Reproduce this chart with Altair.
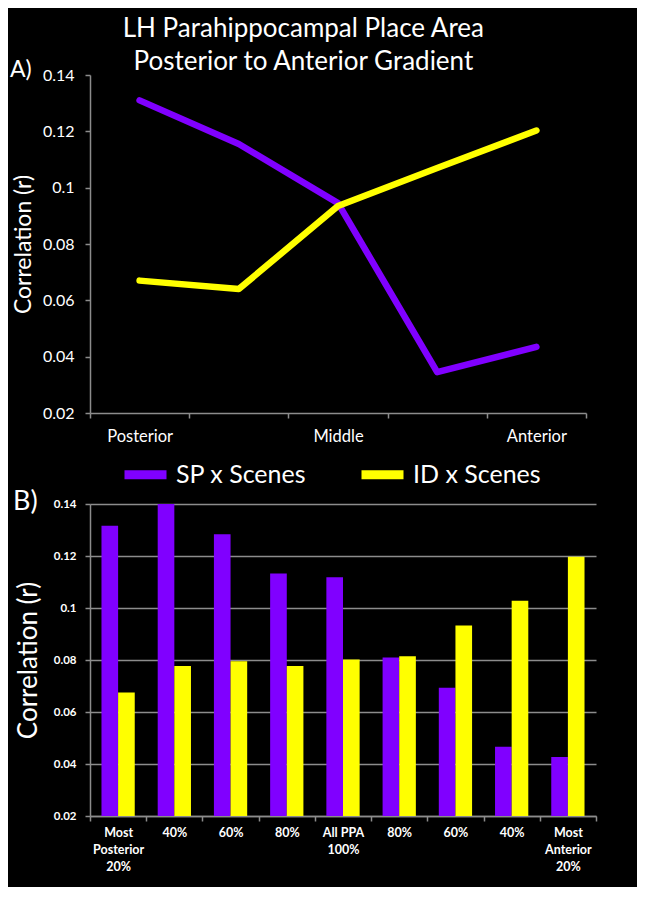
import altair as alt
import pandas as pd

FONT = "Lato"

title_lines = ["LH Parahippocampal Place Area", "Posterior to Anterior Gradient"]
series = ["SP x Scenes", "ID x Scenes"]
colors = ["#8000ff", "#ffff00"]

# Panel A: posterior-to-anterior gradient (5 positions)
grad_pos = ["Posterior", "Posterior-Middle", "Middle", "Middle-Anterior", "Anterior"]
grad_shown = ["Posterior", "Middle", "Anterior"]
grad_sp = [0.131, 0.1155, 0.0945, 0.0345, 0.0435]
grad_id = [0.067, 0.064, 0.0935, 0.107, 0.1203]

# Panel B: bins
bin_keys = ["P20", "P40", "P60", "P80", "ALL", "A80", "A60", "A40", "A20"]
bin_labels = ["Most|Posterior|20%", "40%", "60%", "80%", "All PPA|100%",
              "80%", "60%", "40%", "Most|Anterior|20%"]
bin_sp = [0.1316, 0.1402, 0.1284, 0.1133, 0.1118, 0.081, 0.0693, 0.0466, 0.0427]
bin_id = [0.0675, 0.0777, 0.0795, 0.0777, 0.0802, 0.0814, 0.0933, 0.1028, 0.1197]

y_ticks = [0.02, 0.04, 0.06, 0.08, 0.1, 0.12, 0.14]
panel_tags = ["A)", "B)"]

top_df = pd.DataFrame({
    "pos": grad_pos * 2,
    "series": [s for s in series for _ in grad_pos],
    "r": grad_sp + grad_id,
})
bot_df = pd.DataFrame({
    "bin": bin_keys * 2,
    "series": [s for s in series for _ in bin_keys],
    "r": bin_sp + bin_id,
})

color_scale = alt.Scale(domain=series, range=colors)

shown_js = "[" + ",".join("'%s'" % s for s in grad_shown) + "]"
keys_js = "[" + ",".join("'%s'" % s for s in bin_keys) + "]"
labels_js = "[" + ",".join("'%s'" % s for s in bin_labels) + "]"

GRAY = "#8c8c8c"

line = alt.Chart(top_df).mark_line(strokeWidth=6.5, strokeCap="round", strokeJoin="round").encode(
    x=alt.X("pos:N", sort=grad_pos,
            scale=alt.Scale(type="band", paddingInner=0, paddingOuter=0),
            axis=alt.Axis(title=None, labelAngle=0, labelColor="white", labelFontSize=16.5,
                          labelFont=FONT, labelPadding=10, tickBand="extent", tickSize=5,
                          tickColor=GRAY, domainColor=GRAY, domainWidth=1.5,
                          tickWidth=1.5, grid=False,
                          labelExpr="indexof(%s, datum.value) >= 0 ? datum.value : ''" % shown_js)),
    y=alt.Y("r:Q", scale=alt.Scale(domain=[0.02, 0.14], zero=False, nice=False),
            axis=alt.Axis(title="Correlation (r)", values=y_ticks, format=".2~f",
                          labelColor="white", labelFontSize=16, labelFont=FONT,
                          labelPadding=11, tickSize=5, tickColor=GRAY,
                          domainColor=GRAY, domainWidth=1.5, tickWidth=1.5, grid=False,
                          titleColor="white", titleFontSize=23, titleFont=FONT,
                          titleFontWeight="normal", titlePadding=7)),
    color=alt.Color("series:N", sort=series, scale=color_scale,
                    legend=alt.Legend(orient="none", legendX=30, legendY=374,
                                      direction="horizontal", title=None,
                                      symbolType="stroke", symbolSize=1764,
                                      symbolStrokeWidth=9, labelFontSize=25,
                                      labelFont=FONT, labelColor="white",
                                      labelOffset=5, labelLimit=400,
                                      columnPadding=36, padding=0)),
)

tag_a = alt.Chart(pd.DataFrame({"t": [panel_tags[0]]})).mark_text(
    align="left", baseline="middle", fontSize=23, font=FONT, color="white"
).encode(text="t:N", x=alt.value(-80), y=alt.value(-5))

top = alt.layer(line, tag_a).properties(width=496, height=338)

bars = alt.Chart(bot_df).mark_bar(clip=True).encode(
    x=alt.X("bin:N", sort=bin_keys,
            scale=alt.Scale(paddingInner=0, paddingOuter=0),
            axis=alt.Axis(title=None, labelAngle=0, labelColor="white", labelFontSize=12.5,
                          labelFontWeight="bold", labelFont=FONT, labelLineHeight=17,
                          labelPadding=5, tickBand="extent", tickSize=5,
                          tickColor=GRAY, domainColor=GRAY, domainWidth=1.5,
                          tickWidth=1.5, grid=False,
                          labelExpr="indexof(%s, datum.value) >= 0 ? split(%s[indexof(%s, datum.value)], '|') : ''"
                          % (keys_js, labels_js, keys_js))),
    xOffset=alt.XOffset("series:N", sort=series,
                        scale=alt.Scale(paddingInner=0, paddingOuter=0.69)),
    y=alt.Y("r:Q", scale=alt.Scale(domain=[0.02, 0.14], zero=False, nice=False),
            axis=alt.Axis(title="Correlation (r)", values=y_ticks, format=".2~f",
                          labelColor="white", labelFontSize=11.5, labelFontWeight="bold",
                          labelFont=FONT, labelPadding=9, tickSize=5, tickColor=GRAY,
                          domainColor=GRAY, domainWidth=1.5, tickWidth=1.5,
                          grid=True, gridColor=GRAY, gridWidth=1.5,
                          titleColor="white", titleFontSize=26, titleFont=FONT,
                          titleFontWeight="normal", titlePadding=12)),
    y2=alt.datum(0.02),
    color=alt.Color("series:N", sort=series, scale=color_scale, legend=None),
)

tag_b = alt.Chart(pd.DataFrame({"t": [panel_tags[1]]})).mark_text(
    align="left", baseline="middle", fontSize=27, font=FONT, color="white"
).encode(text="t:N", x=alt.value(-77), y=alt.value(-2))

bottom = alt.layer(bars, tag_b).properties(width=506, height=312)

chart = alt.vconcat(top, bottom, spacing=-5).resolve_scale(color="independent").properties(
    title=alt.TitleParams(text=title_lines, fontSize=26, font=FONT, color="white",
                          fontWeight="normal", lineHeight=33, anchor="middle", offset=-16),
    background="black",
    padding={"left": 2, "top": 8, "right": 40, "bottom": 14},
).configure_view(strokeWidth=0)

chart.save("out.html", embed_options={"renderer": "svg", "actions": False})
